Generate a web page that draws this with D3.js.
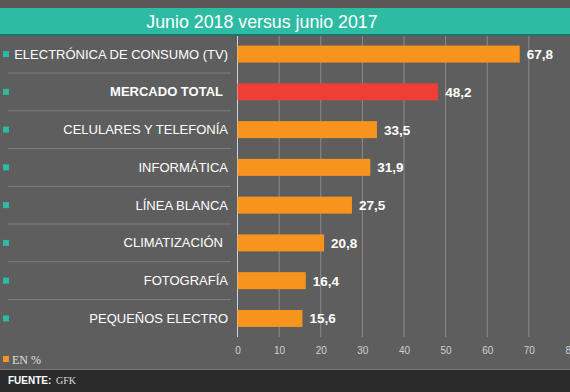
<!DOCTYPE html>
<html><head><meta charset="utf-8">
<script src="https://cdn.jsdelivr.net/npm/d3@7"></script>
<style>body{margin:0;background:#5e5e5e;}svg{display:block;}</style>
</head><body>
<svg id="c" width="570" height="392"></svg>
<script>
const title = "Junio 2018 versus junio 2017";
const categories = ["ELECTRÓNICA DE CONSUMO (TV)","MERCADO TOTAL","CELULARES Y TELEFONÍA","INFORMÁTICA","LÍNEA BLANCA","CLIMATIZACIÓN","FOTOGRAFÍA","PEQUEÑOS ELECTRO"];
const values = [67.8,48.2,33.5,31.9,27.5,20.8,16.4,15.6];
const highlight = ["MERCADO TOTAL"];
const ticks = [0,10,20,30,40,50,60,70,80];
const legendLabel = "EN %";
const sourceLabel = "FUENTE:";
const sourceText = "GFK";

const svg = d3.select("#c");
const W = 570, H = 392;
svg.append("rect").attr("width",W).attr("height",H).attr("fill","#5e5e5e");
svg.append("rect").attr("width",W).attr("height",8).attr("fill","#5b5655");
svg.append("rect").attr("y",8).attr("width",W).attr("height",26).attr("fill","#2ebba3");
svg.append("rect").attr("y",34).attr("width",W).attr("height",2).attr("fill","#1f7467");
svg.append("text").attr("x",262).attr("y",28).attr("text-anchor","middle")
  .attr("font-family","Liberation Sans, Arial, sans-serif").attr("font-size",17.8).attr("fill","#ffffff").text(title);

const x = d3.scaleLinear().domain([0,80]).range([237.5,570.5]);
const y = d3.scaleBand().domain(categories).range([35,337.5]).paddingInner(0.55).paddingOuter(0.28);

// gridlines
svg.append("g").selectAll("line").data(ticks).join("line")
  .attr("x1",d=>x(d)).attr("x2",d=>x(d)).attr("y1",36).attr("y2",337)
  .attr("stroke",d=>d===0?"#c9d6e0":"#8c8c8c").attr("stroke-width",1);

// separators
const step = y.step();
categories.slice(1).forEach(c=>{
  const yy = y(c) - (step - y.bandwidth())/2;
  svg.append("line").attr("x1",8).attr("x2",231).attr("y1",yy).attr("y2",yy)
    .attr("stroke","#7e7e7e").attr("stroke-width",1);
});

// bars
svg.selectAll("rect.bar").data(categories).join("rect").attr("class","bar")
  .attr("x",x(0)).attr("y",d=>y(d)).attr("height",y.bandwidth())
  .attr("width",(d,i)=>x(values[i])-x(0))
  .attr("fill",d=>highlight.includes(d)?"#ef3e36":"#f7941d");

// value labels
svg.selectAll("text.val").data(categories).join("text")
  .attr("x",(d,i)=>x(values[i])+7).attr("y",d=>y(d)+y.bandwidth()/2+5)
  .attr("font-family","Liberation Sans, Arial, sans-serif").attr("font-size",13.5).attr("font-weight","bold")
  .attr("fill","#ffffff").text((d,i)=>d3.format(".1f")(values[i]).replace(".",","));

// category labels
svg.selectAll("text.cat").data(categories).join("text")
  .attr("x",d=>(d==="MERCADO TOTAL"||d==="CLIMATIZACIÓN")?223:228)
  .attr("y",d=>y(d)+y.bandwidth()/2+4.5).attr("text-anchor","end")
  .attr("font-family","Liberation Sans, Arial, sans-serif").attr("font-size",13)
  .attr("font-weight",d=>highlight.includes(d)?"bold":"normal")
  .attr("fill","#ffffff").text(d=>d);

// teal squares
svg.selectAll("rect.sq").data(categories).join("rect")
  .attr("x",3).attr("y",d=>y(d)+y.bandwidth()/2-3).attr("width",6).attr("height",6)
  .attr("fill","#2ebba3");

// axis labels
const axis = d3.axisBottom(x).tickValues(ticks).tickSize(0).tickPadding(0).tickFormat(d3.format("d"));
const ag = svg.append("g").attr("transform","translate(0,347)").call(axis);
ag.select(".domain").remove();
ag.selectAll("text").attr("font-family","Liberation Sans, Arial, sans-serif").attr("font-size",10).attr("fill","#d0d0d0");

// legend
svg.append("rect").attr("x",3).attr("y",356).attr("width",6).attr("height",6).attr("fill","#f7941d");
svg.append("text").attr("x",12).attr("y",364).attr("font-family","Liberation Serif, Times New Roman, serif")
  .attr("font-size",12).attr("fill","#e0e0e0").text(legendLabel);

// footer
svg.append("rect").attr("y",369).attr("width",W).attr("height",1).attr("fill","#777");
svg.append("rect").attr("y",370).attr("width",W).attr("height",22).attr("fill","#2b2b2b");
svg.append("text").attr("x",8).attr("y",384).attr("font-family","Liberation Sans, Arial, sans-serif")
  .attr("font-size",10).attr("font-weight","bold").attr("fill","#ffffff").text(sourceLabel);
svg.append("text").attr("x",56).attr("y",384).attr("font-family","Liberation Serif, Times New Roman, serif")
  .attr("font-size",10).attr("fill","#dddddd").text(sourceText);
</script>
</body></html>
